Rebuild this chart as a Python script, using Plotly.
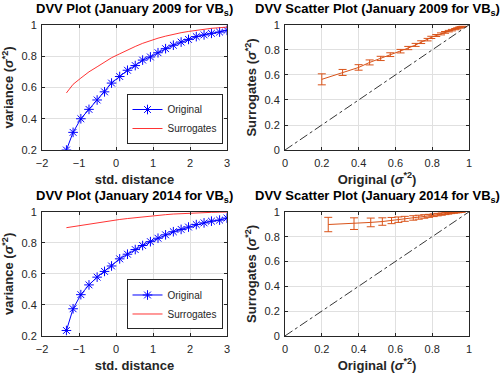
import plotly.graph_objects as go

# standardised distance (x of the DVV plots)
std_dist = [-1.34, -1.16, -0.95, -0.73, -0.51, -0.31, -0.12, 0.10, 0.31, 0.52, 0.72,
            0.93, 1.135, 1.34, 1.55, 1.76, 1.96, 2.17, 2.38, 2.58, 2.80, 3.00]

# January 2009
orig_2009 = [0.20, 0.313, 0.40, 0.46, 0.52, 0.572, 0.628, 0.67, 0.71, 0.74, 0.775,
             0.795, 0.822, 0.848, 0.87, 0.89, 0.907, 0.925, 0.936, 0.946, 0.954, 0.965]
surr_2009 = [0.565, 0.62, 0.66, 0.70, 0.732, 0.762, 0.79, 0.815, 0.84, 0.862, 0.882,
             0.90, 0.915, 0.928, 0.94, 0.95, 0.958, 0.966, 0.972, 0.978, 0.982, 0.986]
err_2009 = [0.044, 0.024, 0.022, 0.02, 0.017, 0.015, 0.014, 0.013, 0.012, 0.011, 0.01,
            0.009, 0.008, 0.008, 0.007, 0.006, 0.006, 0.005, 0.005, 0.004, 0.004, 0.003]

# January 2014
orig_2014 = [0.235, 0.375, 0.466, 0.529, 0.579, 0.616, 0.651, 0.697, 0.727, 0.757, 0.783,
             0.808, 0.83, 0.852, 0.872, 0.887, 0.902, 0.918, 0.929, 0.94, 0.947, 0.96]
surr_2014 = [0.898, 0.905, 0.915, 0.922, 0.93, 0.937, 0.944, 0.951, 0.957, 0.963, 0.968,
             0.973, 0.978, 0.982, 0.986, 0.989, 0.992, 0.994, 0.996, 0.997, 0.998, 0.999]
err_2014 = [0.058, 0.047, 0.035, 0.03, 0.025, 0.022, 0.02, 0.018, 0.016, 0.014, 0.012,
            0.011, 0.01, 0.009, 0.008, 0.007, 0.006, 0.005, 0.004, 0.004, 0.003, 0.003]

diag = [0, 1]

FONT = "Liberation Sans, Arial, Helvetica, sans-serif"
DARK = "#262626"
ORANGE = "#D95319"
SIG = "(<i>σ</i><sup>*2</sup>)"

fig = go.Figure()


def dvv(orig, surr, xa, ya, legend):
    fig.add_trace(go.Scatter(x=std_dist, y=orig, mode="lines+markers", name="Original",
                             line=dict(color="#0000FF", width=1),
                             marker=dict(symbol="asterisk-open", size=8,
                                         line=dict(color="#0000FF", width=1)),
                             xaxis=xa, yaxis=ya, legend=legend))
    fig.add_trace(go.Scatter(x=std_dist, y=surr, mode="lines", name="Surrogates",
                             line=dict(color="#FF0000", width=0.8),
                             xaxis=xa, yaxis=ya, legend=legend))


def scatter(orig, surr, err, xa, ya):
    fig.add_trace(go.Scatter(x=orig, y=surr, mode="lines", showlegend=False,
                             line=dict(color=ORANGE, width=1),
                             error_y=dict(type="data", array=err, color=ORANGE,
                                          thickness=1, width=4),
                             xaxis=xa, yaxis=ya))
    fig.add_trace(go.Scatter(x=diag, y=diag, mode="lines", showlegend=False,
                             line=dict(color="black", width=0.8, dash="dashdot"),
                             xaxis=xa, yaxis=ya))


dvv(orig_2009, surr_2009, "x", "y", "legend")
scatter(orig_2009, surr_2009, err_2009, "x2", "y2")
dvv(orig_2014, surr_2014, "x3", "y3", "legend2")
scatter(orig_2014, surr_2014, err_2014, "x4", "y4")

ax = dict(showline=True, mirror="ticks", linecolor=DARK, linewidth=1,
          ticks="inside", ticklen=3, tickcolor=DARK, showgrid=True,
          gridcolor="#E0E0E0", gridwidth=1, zeroline=False, automargin=False,
          tickfont=dict(family=FONT, size=11, color=DARK))
tfont = dict(family=FONT, size=13, color=DARK)

left = [0.084, 0.454]
right = [0.57, 0.938]
top = [0.602, 0.934]
bot = [0.109, 0.438]

def xax(dom, rng, dtick, title, anchor):
    return dict(ax, domain=dom, range=rng, dtick=dtick, anchor=anchor,
                ticklabelstandoff=3,
                title=dict(text="<b>%s</b>" % title, font=tfont, standoff=6))

def yax(dom, rng, dtick, title, anchor):
    return dict(ax, domain=dom, range=rng, dtick=dtick, anchor=anchor,
                ticklabelstandoff=2,
                title=dict(text="<b>%s</b>" % title, font=tfont, standoff=4))

leg = dict(font=dict(family=FONT, size=10, color=DARK), bgcolor="white",
           bordercolor=DARK, borderwidth=1, xanchor="right", yanchor="bottom",
           itemwidth=30, tracegroupgap=0)

fig.update_layout(
    width=500, height=377, margin=dict(l=0, r=0, t=0, b=0),
    paper_bgcolor="white", plot_bgcolor="white",
    xaxis=xax(left, [-2, 3], 1, "std. distance", "y"),
    yaxis=yax(top, [0.2, 1], 0.2, "variance " + SIG, "x"),
    xaxis2=xax(right, [0, 1], 0.2, "Original " + SIG, "y2"),
    yaxis2=yax(top, [0, 1], 0.2, "Surrogates " + SIG, "x2"),
    xaxis3=xax(left, [-2, 3], 1, "std. distance", "y3"),
    yaxis3=yax(bot, [0.2, 1], 0.2, "variance " + SIG, "x3"),
    xaxis4=xax(right, [0, 1], 0.2, "Original " + SIG, "y4"),
    yaxis4=yax(bot, [0, 1], 0.2, "Surrogates " + SIG, "x4"),
    legend=dict(leg, x=0.445, y=0.618),
    legend2=dict(leg, x=0.445, y=0.126),
)

titles = [
    ("DVV Plot (January 2009 for VB<sub>s</sub>)", 0.269, 0.974),
    ("DVV Scatter Plot (January 2009 for VB<sub>s</sub>)", 0.754, 0.974),
    ("DVV Plot (January 2014 for VB<sub>s</sub>)", 0.269, 0.478),
    ("DVV Scatter Plot (January 2014 for VB<sub>s</sub>)", 0.754, 0.478),
]
for text, x, y in titles:
    fig.add_annotation(text="<b>%s</b>" % text, x=x, y=y, xref="paper", yref="paper",
                       xanchor="center", yanchor="middle", showarrow=False,
                       font=dict(family=FONT, size=13, color="black"))

# the page body has a default 8px margin; drop it so the figure sits at 0,0
fig.write_html("out.html", config={"displayModeBar": False},
               post_script="document.body.style.margin='0';")
